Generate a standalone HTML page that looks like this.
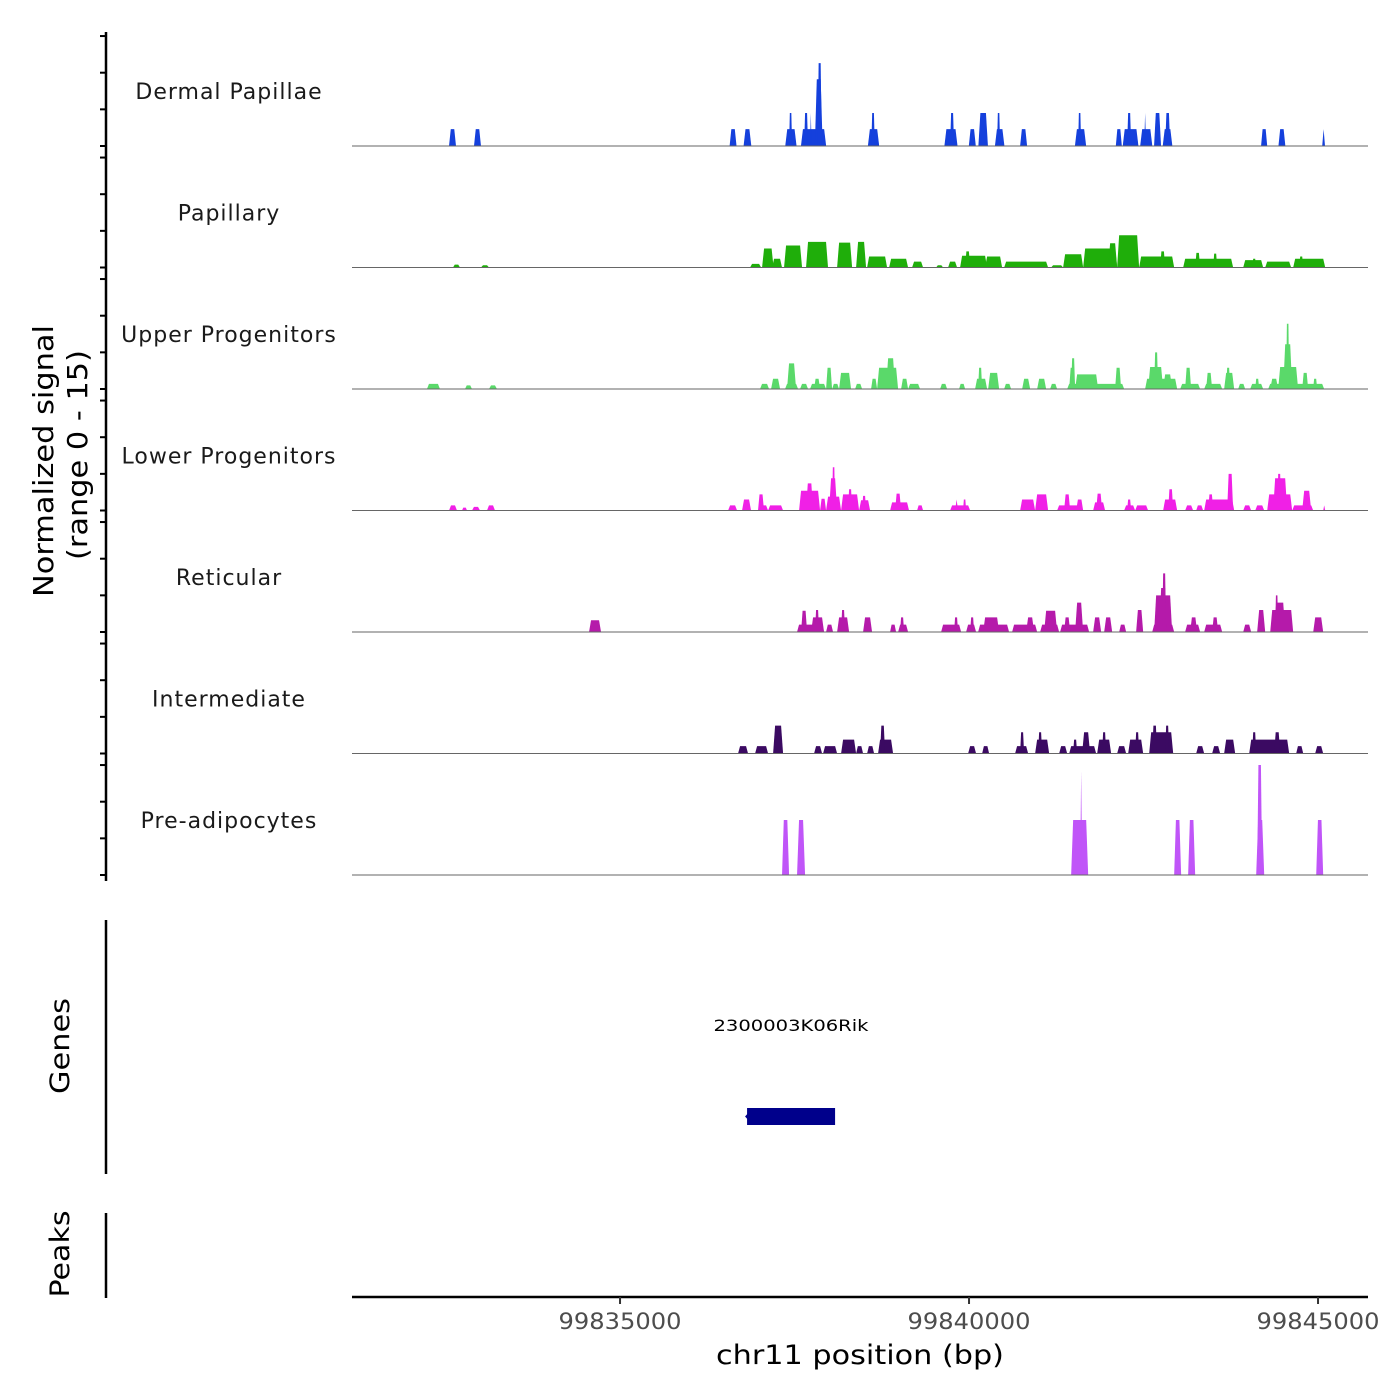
<!DOCTYPE html>
<html><head><meta charset="utf-8"><style>
html,body{margin:0;padding:0;background:#fff}
svg{display:block}
text{font-family:"DejaVu Sans","Liberation Sans",sans-serif}
</style></head><body>
<svg id="chart" width="1400" height="1400" viewBox="0 0 1400 1400" xmlns="http://www.w3.org/2000/svg">
<rect width="1400" height="1400" fill="#fff"/>
<g id="tracks"></g>
<g id="axes"></g>
</svg>
<script>
// ---- data ----
const trackNames = ["Dermal Papillae","Papillary","Upper Progenitors","Lower Progenitors","Reticular","Intermediate","Pre-adipocytes"];
const trackColors = ["#1540dc","#1fae0a","#5ad96a","#f020e6","#b51aaa","#3b0a62","#c055f8"];
const xTicks = [99835000, 99840000, 99845000];
const xTickLabels = ["99835000","99840000","99845000"];
const yTicks = [0,5,10,15];
const geneName = "2300003K06Rik";
const geneStart = 99836820, geneEnd = 99838081;

// peaks per track: [start bp, end bp, signal]
const dermalPeaks = [
[99832550,99832650,2.3],[99832908,99833008,2.3],[99836570,99836669,2.3],[99836770,99836881,2.3],
[99837367,99837529,2.3],[99837422,99837465,4.5],
[99837592,99837953,2.3],[99837637,99837694,4.5],[99837723,99837744,4.5],[99837791,99837903,9.1],[99837831,99837889,11.3],
[99838551,99838713,2.3],[99838600,99838650,4.5],
[99839647,99839835,2.3],[99839729,99839786,4.5],[99839997,99840097,2.3],[99840134,99840271,4.5],
[99840371,99840507,2.3],[99840402,99840445,4.5],[99840732,99840832,2.3],
[99841517,99841678,2.3],[99841563,99841606,4.5],[99842103,99842189,2.3],
[99842202,99842427,2.3],[99842265,99842323,4.5],[99842452,99842626,2.3],[99842510,99842536,4.5],
[99842651,99842751,4.5],[99842775,99842913,2.3],[99842810,99842882,4.5],
[99844184,99844272,2.3],[99844433,99844532,2.3],[99845060,99845100,2.3]];
const papillaryPeaks = [
[99832607,99832707,0.4],[99833008,99833123,0.3],[99836863,99837021,0.5],[99837035,99837200,2.6],
[99837178,99837321,1.2],[99837350,99837608,3.0],[99837665,99837980,3.5],[99838110,99838325,3.4],
[99838382,99838525,3.5],[99838540,99838826,1.5],[99838855,99839127,1.2],[99839184,99839342,0.8],
[99839528,99839629,0.3],[99839700,99839829,0.8],[99839872,99840259,1.6],[99839944,99840016,2.2],
[99840230,99840474,1.5],[99840503,99841133,0.8],[99841176,99841348,0.3],[99841348,99841635,1.8],
[99841635,99842122,2.6],[99841993,99842122,3.3],[99842122,99842437,4.4],[99842437,99842939,1.5],
[99842738,99842810,2.2],[99843068,99843784,1.2],[99843240,99843311,2.0],[99843498,99843555,1.9],
[99843928,99844214,1.0],[99844057,99844114,1.2],[99844243,99844615,0.8],[99844644,99845103,1.2],
[99844730,99844788,1.5]];
const upperPeaks = [
[99832234,99832420,0.7],[99832779,99832879,0.5],[99833123,99833237,0.5],[99837006,99837135,0.7],
[99837164,99837293,1.4],[99837364,99837551,0.7],[99837393,99837522,3.5],[99837579,99837694,0.7],
[99837722,99837952,0.7],[99837780,99837866,1.4],[99837952,99838038,2.9],[99838038,99838138,0.7],
[99838138,99838310,2.2],[99838368,99838468,0.7],[99838597,99838683,1.4],[99838683,99838984,2.9],
[99838812,99838941,4.2],[99839027,99839127,1.4],[99839127,99839299,0.7],[99839586,99839686,0.7],
[99839858,99839944,0.7],[99840087,99840259,1.4],[99840130,99840188,2.9],[99840274,99840431,2.2],
[99840503,99840603,0.7],[99840761,99840876,1.4],[99840976,99841105,1.4],[99841162,99841262,0.7],
[99841406,99842223,0.7],[99841435,99841520,2.9],[99841463,99841520,4.2],[99841520,99841850,2.0],
[99842093,99842179,2.9],[99842523,99842982,1.4],[99842566,99842781,3.0],[99842652,99842709,5.0],
[99842781,99842910,2.0],[99843025,99843311,0.7],[99843096,99843182,2.9],[99843369,99843627,0.7],
[99843397,99843483,2.2],[99843655,99843799,2.2],[99843684,99843741,2.9],[99843856,99843956,0.7],
[99844028,99844214,0.7],[99844100,99844157,1.4],[99844286,99845088,0.7],[99844315,99844429,1.4],
[99844429,99844715,3.0],[99844501,99844630,6.1],[99844543,99844587,8.9],[99844773,99844859,2.2],
[99844930,99844988,1.4]];
const lowerPeaks = [
[99832550,99832664,0.7],[99832736,99832808,0.4],[99832879,99832994,0.5],[99833094,99833209,0.7],
[99836548,99836677,0.7],[99836748,99836877,1.5],[99836977,99837121,0.7],[99836977,99837063,2.2],
[99837121,99837336,0.7],[99837565,99837866,2.7],[99837665,99837766,3.7],[99837866,99837952,1.6],
[99837952,99838167,1.9],[99837995,99838110,4.4],[99838038,99838081,5.9],[99838167,99838425,2.2],
[99838267,99838325,2.9],[99838425,99838583,1.4],[99838468,99838525,2.0],[99838869,99839141,1.1],
[99838941,99839027,2.3],[99839256,99839342,0.7],[99839729,99840016,0.7],[99839801,99839843,1.5],
[99839915,99839958,1.5],[99840732,99840947,1.5],[99840947,99841133,2.2],[99841262,99841635,0.7],
[99841362,99841449,2.2],[99841535,99841635,1.5],[99841778,99841950,1.1],[99841821,99841907,2.3],
[99842222,99842380,0.7],[99842265,99842323,1.5],[99842380,99842566,0.7],[99842781,99842982,1.5],
[99842853,99842925,2.9],[99843096,99843211,0.7],[99843254,99843354,0.7],[99843369,99843799,1.5],
[99843426,99843498,2.2],[99843698,99843784,5.0],[99843928,99844042,0.7],[99844100,99844229,0.7],
[99844272,99844630,2.2],[99844357,99844558,4.4],[99844415,99844472,5.0],[99844630,99844931,0.7],
[99844773,99844902,2.7],[99845074,99845103,0.7]];
const reticularPeaks = [
[99834556,99834728,1.6],[99837536,99837923,1.0],[99837594,99837680,2.9],[99837737,99837923,2.0],
[99837794,99837852,3.0],[99837952,99838052,1.0],[99838110,99838282,2.0],[99838167,99838224,3.0],
[99838482,99838611,2.0],[99838869,99838955,1.0],[99838984,99839127,1.0],[99839012,99839070,2.0],
[99839600,99839887,1.0],[99839786,99839843,2.0],[99839958,99840101,1.0],[99840016,99840073,2.0],
[99840130,99840574,1.0],[99840202,99840431,2.0],[99840617,99840976,1.0],[99840818,99840933,2.0],
[99841019,99841291,1.0],[99841076,99841262,2.9],[99841305,99841721,1.0],[99841362,99841449,2.0],
[99841520,99841635,4.0],[99841778,99841893,2.0],[99841936,99842051,2.0],[99842151,99842251,1.0],
[99842394,99842495,3.0],[99842624,99842939,1.0],[99842652,99842910,5.0],[99842724,99842839,6.0],
[99842767,99842824,8.0],[99843096,99843311,1.0],[99843168,99843268,2.0],[99843369,99843627,1.0],
[99843483,99843569,2.0],[99843928,99844042,1.0],[99844128,99844243,3.0],[99844315,99844644,3.0],
[99844372,99844530,4.0],[99844386,99844429,5.0],[99844931,99845074,2.0]];
const intermediatePeaks = [
[99836691,99836834,1.0],[99836935,99837121,1.0],[99837193,99837336,3.8],[99837780,99837895,1.0],
[99837909,99838110,1.0],[99838167,99838382,1.9],[99838382,99838482,1.0],[99838540,99838640,1.0],
[99838697,99838912,1.9],[99838726,99838797,3.8],[99839987,99840101,1.0],[99840188,99840288,1.0],
[99840660,99840847,1.0],[99840732,99840789,2.9],[99840947,99841148,1.9],[99840990,99841047,2.9],
[99841291,99841406,1.0],[99841435,99841821,1.0],[99841491,99841549,1.9],[99841620,99841735,2.9],
[99841836,99842036,1.9],[99841907,99841964,2.9],[99842122,99842251,1.0],[99842280,99842495,1.9],
[99842380,99842437,2.9],[99842581,99842925,2.9],[99842624,99842695,3.8],[99842810,99842867,3.8],
[99843254,99843369,1.0],[99843483,99843598,1.0],[99843655,99843813,1.9],[99844014,99844587,1.9],
[99844057,99844114,2.9],[99844372,99844458,2.9],[99844687,99844788,1.0],[99844959,99845074,1.0]];
const preadipoPeaks = [
[99837321,99837422,7.5],[99837536,99837651,7.5],[99841463,99841707,7.5],[99841592,99841621,14.2],
[99842939,99843039,7.5],[99843139,99843240,7.5],[99844114,99844229,7.5],[99844128,99844200,15],
[99844974,99845074,7.5]];
const allPeaks = [dermalPeaks,papillaryPeaks,upperPeaks,lowerPeaks,reticularPeaks,intermediatePeaks,preadipoPeaks];

// ---- scales ----
const NS="http://www.w3.org/2000/svg";
const xMin=99831160, xMax=99845716, pxL=352, pxR=1368;
function sx(bp){return pxL+(bp-xMin)/(xMax-xMin)*(pxR-pxL);}
const base0=146, trackStep=121.5, pxPerUnit=7.33;
function sy(i,v){return base0+i*trackStep - v*pxPerUnit;}
function mk(tag,attrs,parent){const e=document.createElementNS(NS,tag);for(const k in attrs)e.setAttribute(k,attrs[k]);parent.appendChild(e);return e;}

const tracks=document.getElementById('tracks');
const axes=document.getElementById('axes');

allPeaks.forEach((peaks,i)=>{
  const g=mk('g',{},tracks);
  
  
  const by=sy(i,0);
  peaks.forEach(p=>{
    const x0=sx(p[0]),x1=sx(p[1]),w=x1-x0,yt=sy(i,p[2]);
    const s=w<=3?w/2:Math.min(w*0.25,2);
    const poly=mk('polygon',{points:`${x0},${by} ${x0+s},${yt} ${x1-s},${yt} ${x1},${by}`,fill:trackColors[i]},g);
    
    
  });
  const bl=mk('line',{x1:pxL,x2:pxR,y1:by,y2:by,stroke:'#666',"stroke-width":1},g);
  
  
  const lab=mk('text',{x:229,y:by-47,"text-anchor":"middle","font-size":22,"letter-spacing":"1",fill:"#1a1a1a"},g);
  lab.textContent=trackNames[i];
  
  
  yTicks.forEach(t=>{
    const tk=mk('line',{x1:100,x2:106,y1:sy(i,t),y2:sy(i,t),stroke:'#000',"stroke-width":2},axes);
    
    
  });
});

// left axis lines
function vline(y1,y2,name){const l=mk('line',{x1:106,x2:106,y1:y1,y2:y2,stroke:'#000',"stroke-width":2.5},axes);}
vline(32,881,'y-axis-line');
vline(920,1174,'genes-axis-line');
vline(1213,1298,'peaks-axis-line');

function rtext(x,y,str,size,len,name){
  const t=mk('text',{x:0,y:0,transform:`translate(${x},${y}) rotate(-90)`,"text-anchor":"middle","font-size":size,fill:"#000",textLength:len,lengthAdjust:"spacingAndGlyphs"},axes);
  t.textContent=str;
}
rtext(53,461,"Normalized signal",28,272,'y-axis-title');
rtext(87,455,"(range 0 - 15)",28,210,'y-axis-range');
rtext(69,1046,"Genes",27,96,'genes-axis-title');
rtext(69,1254,"Peaks",27,87,'peaks-axis-title');

// gene
const gene=mk('g',{},tracks);


mk('rect',{x:sx(geneStart),y:1108,width:sx(geneEnd)-sx(geneStart),height:17,fill:'#00008b'},gene);
mk('polygon',{points:`${sx(geneStart)-2},1116.5 ${sx(geneStart)+2},1112 ${sx(geneStart)+2},1121`,fill:'#00008b'},gene);
const gl=mk('text',{x:791,y:1031,"text-anchor":"middle","font-size":16,fill:"#000",textLength:155,lengthAdjust:"spacingAndGlyphs"},gene);
gl.textContent=geneName;



// x axis
const xa=mk('line',{x1:pxL,x2:pxR,y1:1297,y2:1297,stroke:'#000',"stroke-width":2.5},axes);


xTicks.forEach((t,k)=>{
  const tk=mk('line',{x1:sx(t),x2:sx(t),y1:1297,y2:1304,stroke:'#333',"stroke-width":2},axes);
  
  
  const tl=mk('text',{x:sx(t),y:1329,"text-anchor":"middle","font-size":22,fill:"#4d4d4d",textLength:123,lengthAdjust:"spacingAndGlyphs"},axes);
  tl.textContent=xTickLabels[k];
  
  
});
const xt=mk('text',{x:860,y:1364,"text-anchor":"middle","font-size":27,fill:"#000",textLength:288,lengthAdjust:"spacingAndGlyphs"},axes);
xt.textContent="chr11 position (bp)";


</script>
</body></html>
